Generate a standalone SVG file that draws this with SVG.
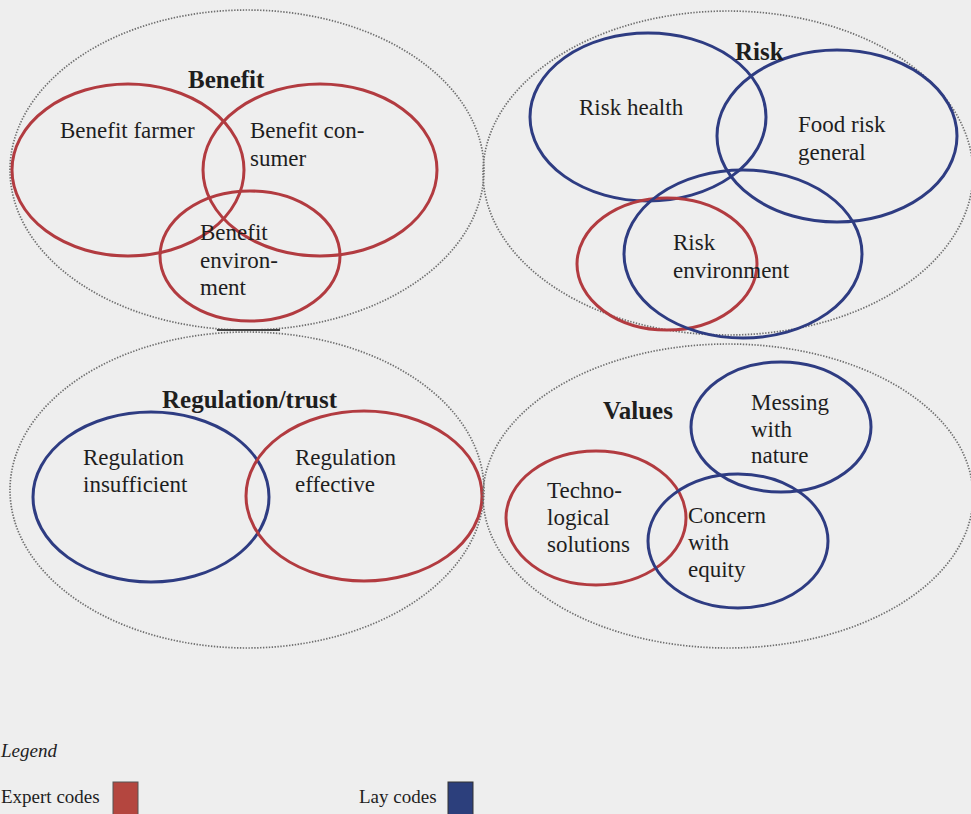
<svg xmlns="http://www.w3.org/2000/svg" width="971" height="814" viewBox="0 0 971 814">
  <style>
    .bg { fill: #eeeeee; }
    .group { fill: none; stroke: #6e6e6e; stroke-width: 1.7; stroke-dasharray: 1.4 1.5; }
    .expert { fill: none; stroke: #b23b40; stroke-width: 3; }
    .lay { fill: none; stroke: #2e3c82; stroke-width: 3; }
    text { font-family: "Liberation Serif", "Times New Roman", serif; fill: #1e1e1e; }
    .label { font-size: 23px; }
    .title { font-size: 25px; font-weight: bold; }
    .legend { font-size: 19px; }
  </style>
  <rect class="bg" x="0" y="0" width="971" height="814"/>

  <!-- Benefit cluster -->
  <g id="benefit">
    <ellipse class="group" cx="247" cy="170" rx="237" ry="160"/>
    <line x1="217" y1="330" x2="280" y2="330" stroke="#444" stroke-width="2"/>
    <ellipse class="expert" cx="128" cy="170" rx="116" ry="86"/>
    <ellipse class="expert" cx="320" cy="170" rx="117" ry="86"/>
    <ellipse class="expert" cx="250" cy="256" rx="90" ry="65"/>
    <text class="title" x="188" y="88">Benefit</text>
    <text class="label" x="60" y="138">Benefit farmer</text>
    <text class="label" x="250" y="138">Benefit con-</text>
    <text class="label" x="250" y="166">sumer</text>
    <text class="label" x="200" y="240">Benefit</text>
    <text class="label" x="200" y="268">environ-</text>
    <text class="label" x="200" y="295">ment</text>
  </g>

  <!-- Risk cluster -->
  <g id="risk">
    <ellipse class="group" cx="728" cy="173" rx="245" ry="162"/>
    <ellipse class="lay" cx="648" cy="117" rx="118" ry="84"/>
    <ellipse class="lay" cx="837" cy="136" rx="120" ry="86"/>
    <ellipse class="expert" cx="667" cy="264" rx="90" ry="66"/>
    <ellipse class="lay" cx="743" cy="254" rx="119" ry="84"/>
    <text class="title" x="735" y="60">Risk</text>
    <text class="label" x="579" y="115">Risk health</text>
    <text class="label" x="798" y="132">Food risk</text>
    <text class="label" x="798" y="160">general</text>
    <text class="label" x="673" y="250">Risk</text>
    <text class="label" x="673" y="278">environment</text>
  </g>

  <!-- Regulation/trust cluster -->
  <g id="regulation">
    <ellipse class="group" cx="247" cy="490" rx="237" ry="158"/>
    <ellipse class="lay" cx="151" cy="497" rx="118" ry="85"/>
    <ellipse class="expert" cx="364" cy="496" rx="118" ry="85"/>
    <text class="title" x="162" y="408">Regulation/trust</text>
    <text class="label" x="83" y="465">Regulation</text>
    <text class="label" x="83" y="492">insufficient</text>
    <text class="label" x="295" y="465">Regulation</text>
    <text class="label" x="295" y="492">effective</text>
  </g>

  <!-- Values cluster -->
  <g id="values">
    <ellipse class="group" cx="728" cy="496" rx="245" ry="152"/>
    <ellipse class="lay" cx="781" cy="427" rx="90" ry="65"/>
    <ellipse class="expert" cx="596" cy="518" rx="90" ry="67"/>
    <ellipse class="lay" cx="738" cy="541" rx="90" ry="67"/>
    <text class="title" x="603" y="419">Values</text>
    <text class="label" x="751" y="410">Messing</text>
    <text class="label" x="751" y="437">with</text>
    <text class="label" x="751" y="463">nature</text>
    <text class="label" x="547" y="498">Techno-</text>
    <text class="label" x="547" y="525">logical</text>
    <text class="label" x="547" y="552">solutions</text>
    <text class="label" x="688" y="523">Concern</text>
    <text class="label" x="688" y="550">with</text>
    <text class="label" x="688" y="577">equity</text>
  </g>

  <!-- Legend -->
  <g id="legend">
    <text class="legend" x="1" y="757" font-style="italic">Legend</text>
    <text class="legend" x="1" y="803">Expert codes</text>
    <rect x="113" y="782" width="25" height="34" fill="#b4463f" stroke="#555" stroke-width="1"/>
    <text class="legend" x="359" y="803">Lay codes</text>
    <rect x="448" y="782" width="25" height="34" fill="#2c3f7c" stroke="#333" stroke-width="1"/>
  </g>

  <g id="connectors"/>
</svg>
